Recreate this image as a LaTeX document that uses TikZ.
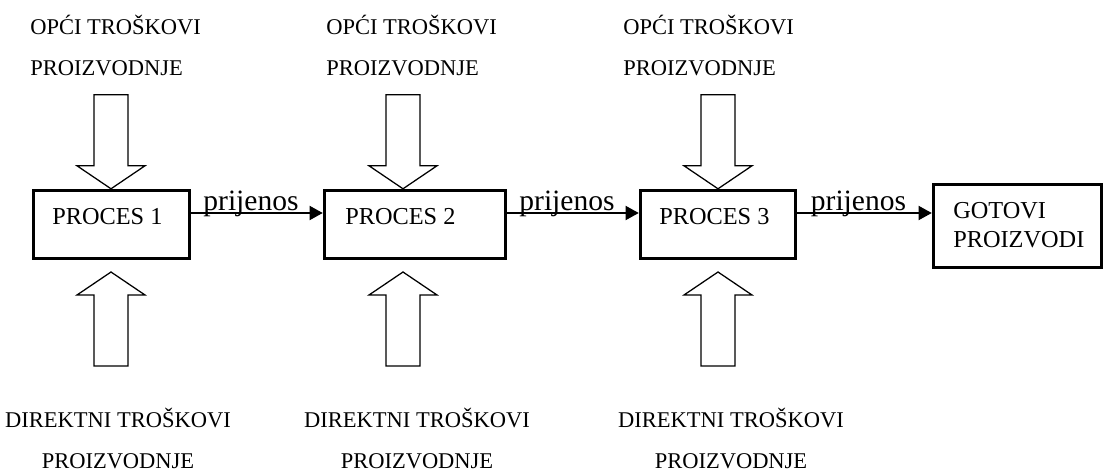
\documentclass[tikz,border=0pt]{standalone}
\usepackage{fontspec}
\setmainfont{Liberation Serif}
\usetikzlibrary{arrows.meta, positioning}

\tikzset{
	procbox/.style={draw, line width=2pt, minimum height=1.715cm, inner sep=0pt},
	boxtxt/.style={inner sep=0pt, font=\fontsize{17.3}{20.6}\selectfont},
	costtxt/.style={inner sep=0pt, font=\fontsize{16}{29.2}\selectfont},
	flowtxt/.style={inner sep=0pt, font=\fontsize{21}{25}\selectfont},
	flow/.style={line width=1.4pt, -{Triangle[length=0.33cm, width=0.35cm]}},
	fatarrow/.pic={
		\draw[line width=0.9pt, line join=miter] (0,0) -- (-34,-23) -- (-17,-23) -- (-17,-94)
			-- (17,-94) -- (17,-23) -- (34,-23) -- cycle;
	}
}

\begin{document}
\begin{tikzpicture}[x=0.025cm, y=-0.025cm]
	\useasboundingbox (0,0) rectangle (1104,473);

	\begin{scope}
		\node[procbox, minimum width=3.915cm] (p1) at (111.5,224.5) {};
		\node[procbox, minimum width=4.54cm] (p2) at (415,224.5) {};
		\node[procbox, minimum width=3.89cm] (p3) at (718,224.5) {};
		\node[procbox, minimum width=4.215cm, minimum height=2.09cm] (gp) at (1017.5,226) {};

		\node[boxtxt, anchor=west] (p1txt) at (52,217) {PROCES 1};
		\node[boxtxt, anchor=west] (p2txt) at (345,217) {PROCES 2};
		\node[boxtxt, anchor=west] (p3txt) at (659,217) {PROCES 3};
		\node[boxtxt, anchor=north west, align=left] (gptxt) at (953,202) {GOTOVI\\PROIZVODI};
	\end{scope}

	\begin{scope}
		\draw[flow] (p1.east |- 0,213) -- node[flowtxt, anchor=base, xshift=-0.15cm, yshift=0.075cm] (tr1) {prijenos} (p2.west |- 0,213);
		\draw[flow] (p2.east |- 0,213) -- node[flowtxt, anchor=base, xshift=-0.15cm, yshift=0.075cm] (tr2) {prijenos} (p3.west |- 0,213);
		\draw[flow] (p3.east |- 0,213) -- node[flowtxt, anchor=base, xshift=-0.15cm, yshift=0.075cm] (tr3) {prijenos} (gp.west |- 0,213);
	\end{scope}

	\begin{scope}
		\pic at (111,0 |- p1.north) {fatarrow};
		\pic at (403,0 |- p2.north) {fatarrow};
		\pic at (718,0 |- p3.north) {fatarrow};
		\pic[rotate=180] at (111,272) {fatarrow};
		\pic[rotate=180] at (403,272) {fatarrow};
		\pic[rotate=180] at (718,272) {fatarrow};
	\end{scope}

	\begin{scope}
		\node[costtxt, anchor=north west, align=left] (oh1) at (30,15) {OPĆI TROŠKOVI\\PROIZVODNJE};
		\node[costtxt, anchor=north west, align=left] (oh2) at (326,15) {OPĆI TROŠKOVI\\PROIZVODNJE};
		\node[costtxt, anchor=north west, align=left] (oh3) at (623,15) {OPĆI TROŠKOVI\\PROIZVODNJE};
		\node[costtxt, anchor=north, align=center] (dc1) at (118,408) {DIREKTNI TROŠKOVI\\PROIZVODNJE};
		\node[costtxt, anchor=north, align=center] (dc2) at (417,408) {DIREKTNI TROŠKOVI\\PROIZVODNJE};
		\node[costtxt, anchor=north, align=center] (dc3) at (731,408) {DIREKTNI TROŠKOVI\\PROIZVODNJE};
	\end{scope}
\end{tikzpicture}
\end{document}
